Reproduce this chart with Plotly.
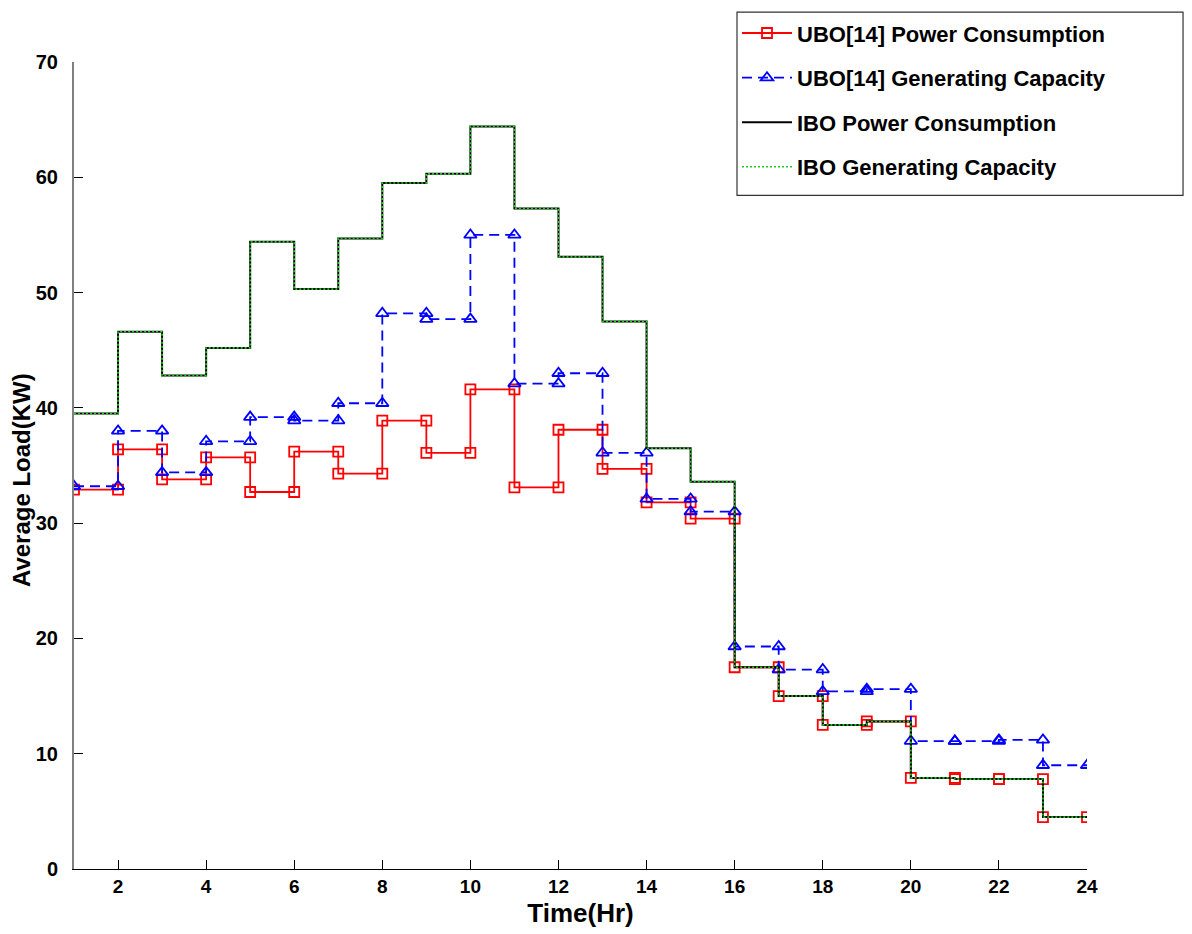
import plotly.graph_objects as go

# Hour boundaries (segment i spans hours[i] .. hours[i+1])
hours = list(range(1, 25))

# Average load per hour segment (KW)
ubo_power = [32.9, 36.4, 33.8, 35.7, 32.7, 36.2, 34.3, 38.9, 36.1, 41.6, 33.1, 38.1,
             34.7, 31.8, 30.4, 17.5, 15.0, 12.5, 12.8, 7.9, 7.8, 7.8, 4.5]
ubo_gen = [33.2, 38.0, 34.4, 37.1, 39.2, 38.9, 40.4, 48.2, 47.7, 55.0, 42.1, 43.0,
           36.1, 32.1, 31.0, 19.3, 17.3, 15.4, 15.6, 11.1, 11.1, 11.2, 9.0]
ibo_power = [39.5, 46.6, 42.8, 45.2, 54.4, 50.3, 54.7, 59.5, 60.3, 64.4, 57.3, 53.1,
             47.5, 36.5, 33.6, 17.5, 15.0, 12.5, 12.8, 7.9, 7.8, 7.8, 4.5]
ibo_gen = list(ibo_power)

x_ticks = list(range(2, 25, 2))
y_ticks = list(range(0, 71, 10))


def stairs(xb, vals):
    xs, ys = [], []
    for i, v in enumerate(vals):
        xs += [xb[i], xb[i + 1]]
        ys += [v, v]
    return xs, ys


fig = go.Figure()

x1, y1 = stairs(hours, ubo_power)
fig.add_trace(go.Scatter(
    x=x1, y=y1, mode="lines+markers", name="UBO[14] Power Consumption",
    legendgroup="a",
    line=dict(color="#ff0000", width=1.8),
    marker=dict(symbol="square-open", size=10, color="#ff0000", line=dict(width=1.8)),
))

x2, y2 = stairs(hours, ubo_gen)
fig.add_trace(go.Scatter(
    x=x2, y=y2, mode="lines+markers", name="UBO[14] Generating Capacity",
    legendgroup="b",
    line=dict(color="#0000ff", width=1.8, dash="10px,6px"),
    marker=dict(symbol="triangle-up-open", size=11, color="#0000ff", line=dict(width=1.8)),
))

x3, y3 = stairs(hours, ibo_power)
fig.add_trace(go.Scatter(
    x=x3, y=y3, mode="lines", name="IBO Power Consumption",
    legendgroup="c",
    line=dict(color="#000000", width=2),
))

x4, y4 = stairs(hours, ibo_gen)
fig.add_trace(go.Scatter(
    x=x4, y=y4, mode="lines", name="IBO Generating Capacity",
    legendgroup="d",
    line=dict(color="#22cc22", width=1.6, dash="2px,2px"),
))

fig.update_layout(
    width=1192, height=934,
    margin=dict(l=74, r=105, t=58, b=65),
    paper_bgcolor="white", plot_bgcolor="white",
    font=dict(family="Arial, 'Liberation Sans', sans-serif", color="black"),
    showlegend=True,
    legend=dict(
        x=0.6545, y=1.0617, xanchor="left", yanchor="top",
        borderwidth=0, bgcolor="rgba(0,0,0,0)",
        font=dict(size=22, weight="bold"),
        traceorder="grouped", tracegroupgap=13,
        itemwidth=50,
    ),
    shapes=[dict(
        type="rect", xref="paper", yref="paper",
        x0=0.6545, x1=1.0948, y0=0.8348, y1=1.0617,
        line=dict(color="#333333", width=1.2), fillcolor="rgba(0,0,0,0)",
        layer="above",
    )],
    annotations=[dict(
        text="Average Load(KW)", textangle=-90,
        xref="paper", yref="paper", x=-0.0523, y=0.482,
        xanchor="center", yanchor="middle", showarrow=False,
        font=dict(size=24, weight="bold", color="black"),
    )],
    xaxis=dict(
        range=[1, 24], tickmode="array", tickvals=x_ticks,
        ticks="inside", ticklen=9, tickcolor="black",
        showline=True, linecolor="black", linewidth=1,
        showgrid=False, zeroline=False,
        tickfont=dict(size=19, weight="bold"),
        title=dict(text="Time(Hr)", font=dict(size=26, weight="bold"), standoff=8),
    ),
    yaxis=dict(
        range=[0, 70], tickmode="array", tickvals=y_ticks,
        ticks="inside", ticklen=9, tickcolor="black",
        showline=True, linecolor="#808080", linewidth=2,
        showgrid=False, zeroline=False,
        ticklabelstandoff=10,
        tickfont=dict(size=20, weight="bold"),
    ),
)

fig.write_html("out.html")
